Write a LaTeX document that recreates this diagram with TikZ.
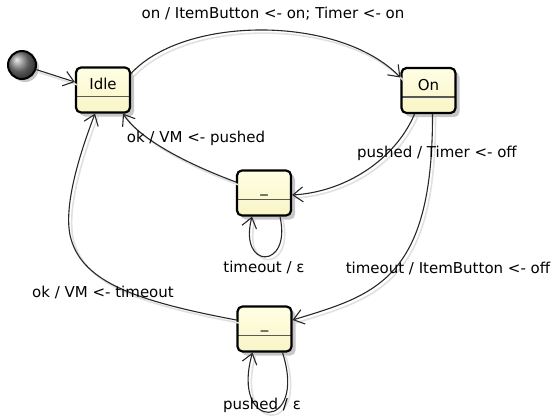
\documentclass[tikz,border=0pt]{standalone}
\usepackage{fontspec}
\setmainfont{DejaVu Sans}
\usepackage{tikz}
\usetikzlibrary{arrows.meta,shadows,calc}
\definecolor{stfill}{RGB}{255,254,228}
\definecolor{stfilldark}{RGB}{249,245,198}
\definecolor{edgegray}{RGB}{40,40,40}
\tikzstyle{state}=[rectangle, rounded corners=5pt, draw=black, line width=2.2pt,
  top color=stfill, bottom color=stfilldark, minimum width=54pt, minimum height=45pt,
  inner sep=0pt, text height=10pt, text depth=11pt,
  drop shadow={shadow xshift=4pt, shadow yshift=-4pt, fill=black!22, opacity=1},
  path picture={\draw[black!65, line width=1.4pt]
    ([yshift=16pt]path picture bounding box.south west) --
    ([yshift=16pt]path picture bounding box.south east);}]
\tikzstyle{trans}=[edgegray, line width=1.1pt, -{Straight Barb[length=10pt,width=15pt]},
  preaction={draw=black!12, line width=1.6pt, -, transform canvas={shift={(3pt,-3pt)}}}]
\tikzstyle{lbl}=[inner sep=1pt]

\begin{document}
\begin{tikzpicture}[x=1pt, y=-1pt, every node/.style={font=\fontsize{15}{17}\selectfont}]
  \useasboundingbox (0,0) rectangle (558,416);

  % ── states ─────────────────────────────────────────────────────────────────
  \node[circle, draw=black, line width=2pt, minimum size=28pt, inner sep=0pt,
        ball color=black!50, drop shadow={shadow xshift=3pt, shadow yshift=-3pt, fill=black!22, opacity=1}]
    (init) at (22,65) {};
  \node[state] (Idle) at (103,90) {Idle};
  \node[state] (On) at (428.5,90.5) {On};
  \node[state] (wait) at (264,193) {\_};
  \node[state] (timed) at (264.5,329) {\_};

  % ── transitions ────────────────────────────────────────────────────────────
  \draw[trans] (init) -- ($(Idle.west)+(0,-8)$);
  \draw[trans] ($(Idle.north east)+(0,7)$) .. controls (185,15) and (340,15) .. ($(On.west)+(0,-13)$);
  \draw[trans] ($(On.south)+(-14,0)$) .. controls (395,160) and (345,192) .. ($(wait.east)+(0,2)$);
  \draw[trans] ($(wait.west)+(0,-11)$) .. controls (190,165) and (140,140) .. ($(Idle.south)+(20,0)$);
  \draw[trans] ($(wait.south)+(16,0)$) .. controls (292,270) and (238,270) .. ($(wait.south)+(-12,0)$);
  \draw[trans] ($(On.south)+(4,0)$) .. controls (433,280) and (375,295) .. ($(timed.east)+(0,-9)$);
  \draw[trans] ($(timed.west)+(0,-9)$) .. controls (130,300) and (80,280) .. (70,235)
    .. controls (63,200) and (85,140) .. ($(Idle.south)+(-8,0)$);
  \draw[trans] ($(timed.south)+(18,0)$) .. controls (308,432) and (230,432) .. ($(timed.south)+(-12,0)$);

  % ── labels ─────────────────────────────────────────────────────────────────
  \node[lbl] (lOn) at (273,14) {on / ItemButton <- on; Timer <- on};
  \node[lbl] (lPushOk) at (196,138) {ok / VM <- pushed};
  \node[lbl] (lPushed) at (437,153) {pushed / Timer <- off};
  \node[lbl] (lLoopA) at (264,267) {timeout / ε};
  \node[lbl] (lTimeout) at (448,268) {timeout / ItemButton <- off};
  \node[lbl] (lTimeOk) at (103,292) {ok / VM <- timeout};
  \node[lbl] (lLoopB) at (262,405) {pushed / ε};

\end{tikzpicture}
\end{document}
